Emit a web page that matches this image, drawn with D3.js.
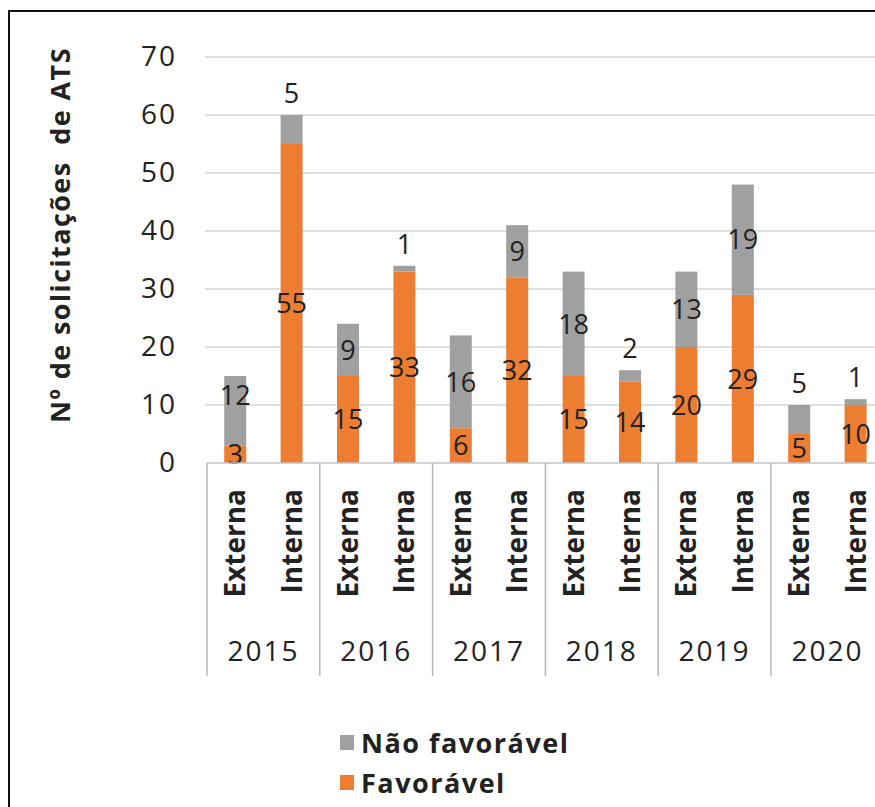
<!DOCTYPE html>
<html>
<head>
<meta charset="utf-8">
<script src="https://cdn.jsdelivr.net/npm/d3@7"></script>
<style>
  html, body { margin: 0; padding: 0; background: #fff; }
  svg { display: block; font-family: "Open Sans", sans-serif; }
</style>
</head>
<body>
<svg id="chart" width="875" height="807"></svg>
<script>
// ---- data ----
const years = ["2015", "2016", "2017", "2018", "2019", "2020"];
const types = ["Externa", "Interna"];
const favoravel    = [3, 55, 15, 33, 6, 32, 15, 14, 20, 29, 5, 10];
const naoFavoravel = [12, 5, 9, 1, 16, 9, 18, 2, 13, 19, 5, 1];
const yTicks = [0, 10, 20, 30, 40, 50, 60, 70];
const seriesNames = ["Não favorável", "Favorável"];
const yTitle = "Nº de solicitações  de ATS";

// ---- build rows ----
const rows = [];
years.forEach((yr, i) => types.forEach((t, j) => {
  const k = i * types.length + j;
  rows.push({ key: yr + "-" + t, year: yr, type: t, fav: favoravel[k], nao: naoFavoravel[k] });
}));

const svg = d3.select("#chart");
const colors = { fav: "#ED7D31", nao: "#A0A0A0" };
const textColor = "#222";

// frame
svg.append("path")
  .attr("d", "M9,830 L9,11 L900,11")
  .attr("fill", "none").attr("stroke", "#111").attr("stroke-width", 2);

const x0 = 207, x1 = 207 + 12 * 56.4;
const x = d3.scaleBand().domain(rows.map(d => d.key)).range([x0, x1]).paddingInner(0.61).paddingOuter(0.305);
const xYear = d3.scaleBand().domain(years).range([x0, x1]);
const y = d3.scaleLinear().domain([0, 70]).range([463, 57]);

// gridlines
svg.append("g").selectAll("line").data(yTicks.filter(v => v > 0)).join("line")
  .attr("x1", 205).attr("x2", 875)
  .attr("y1", d => y(d)).attr("y2", d => y(d))
  .attr("stroke", "#d4d4d4").attr("stroke-width", 1.5);

// y axis labels
const yAxis = d3.axisLeft(y).tickValues(yTicks).tickSize(0).tickPadding(0);
const gy = svg.append("g").attr("transform", "translate(177,0)").call(yAxis);
gy.select(".domain").remove();
gy.selectAll("text")
  .attr("fill", textColor)
  .style("font-size", "28px")
  .style("letter-spacing", "2px")
  .style("font-family", "'Open Sans', sans-serif");

// y title
svg.append("text")
  .attr("transform", `translate(70,235) rotate(-90)`)
  .attr("text-anchor", "middle")
  .attr("fill", textColor)
  .style("font-size", "27px")
  .style("font-weight", "bold")
  .style("letter-spacing", "1.4px")
  .style("white-space", "pre")
  .attr("xml:space", "preserve")
  .text(yTitle);

// bars
const stackData = d3.stack().keys(["fav", "nao"])(rows);
const gBars = svg.append("g");
stackData.forEach(layer => {
  gBars.append("g").attr("fill", colors[layer.key])
    .selectAll("rect").data(layer).join("rect")
    .attr("x", d => x(d.data.key))
    .attr("width", x.bandwidth())
    .attr("y", d => y(d[1]))
    .attr("height", d => y(d[0]) - y(d[1]));
});

// data labels
const gLabels = svg.append("g")
  .attr("fill", textColor)
  .attr("text-anchor", "middle")
  .style("font-size", "27px");
stackData.forEach(layer => {
  gLabels.append("g").selectAll("text").data(layer).join("text")
    .attr("x", d => x(d.data.key) + x.bandwidth() / 2)
    .attr("y", d => {
      const h = y(d[0]) - y(d[1]);
      if (layer.key === "nao" && h < 32) return y(d[1]) - 22;
      // keep the upper label clear of a small lower label
      const below = y(0) - y(d[0]);
      if (layer.key === "nao" && below > 0 && below < 20) return (y(d[0]) + y(d[1])) / 2 - 16;
      return (y(d[0]) + y(d[1])) / 2;
    })
    .attr("dy", "0.36em")
    .text(d => d.data[layer.key]);
});

// x axis line
svg.append("line")
  .attr("x1", x0).attr("x2", 875).attr("y1", y(0)).attr("y2", y(0))
  .attr("stroke", "#c4c4c4").attr("stroke-width", 1.5);

// group separators
svg.append("g").selectAll("line").data(years).join("line")
  .attr("x1", d => xYear(d)).attr("x2", d => xYear(d))
  .attr("y1", y(0)).attr("y2", 676)
  .attr("stroke", "#b8b8b8").attr("stroke-width", 1.5);

// rotated sub-category labels
svg.append("g").selectAll("text").data(rows).join("text")
  .attr("transform", d => `translate(${x(d.key) + x.bandwidth() / 2},489) rotate(-90)`)
  .attr("text-anchor", "end")
  .attr("dy", "0.36em")
  .attr("fill", textColor)
  .style("font-size", "28px")
  .style("font-weight", "bold")
  .text(d => d.type);

// year labels
svg.append("g").selectAll("text").data(years).join("text")
  .attr("x", d => xYear(d) + xYear.bandwidth() / 2)
  .attr("y", 661)
  .attr("text-anchor", "middle")
  .attr("fill", textColor)
  .style("font-size", "28px")
  .style("letter-spacing", "2px")
  .text(d => d);

// legend
const legend = svg.append("g");
const legendItems = [{ name: seriesNames[0], color: colors.nao }, { name: seriesNames[1], color: colors.fav }];
legend.selectAll("rect").data(legendItems).join("rect")
  .attr("x", 340).attr("y", (d, i) => 735 + i * 40)
  .attr("width", 14).attr("height", 15)
  .attr("fill", d => d.color);
legend.selectAll("text").data(legendItems).join("text")
  .attr("x", 361).attr("y", (d, i) => 743 + i * 40)
  .attr("dy", "0.36em")
  .attr("fill", textColor)
  .style("font-size", "27px")
  .style("font-weight", "bold")
  .style("letter-spacing", "1.5px")
  .text(d => d.name);
</script>
</body>
</html>
